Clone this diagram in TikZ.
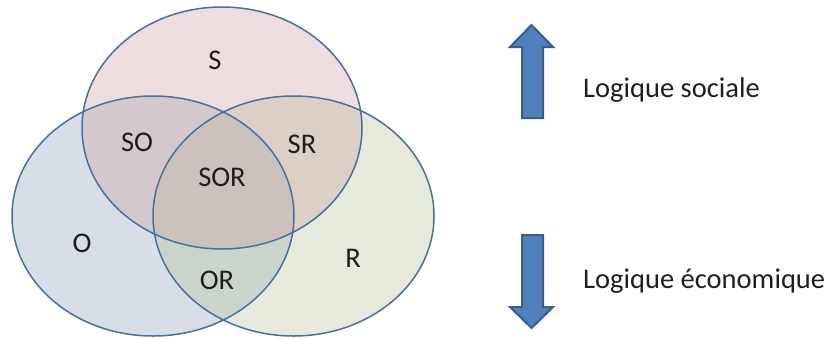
\documentclass[tikz,border=0pt]{standalone}
\usepackage{fontspec}
\setmainfont{Carlito}
\definecolor{sfill}{RGB}{204,158,161}
\definecolor{ofill}{RGB}{141,161,184}
\definecolor{rfill}{RGB}{181,195,155}
\definecolor{vennline}{RGB}{74,111,152}
\definecolor{arrowfill}{RGB}{79,129,189}
\definecolor{arrowline}{RGB}{56,93,138}
\definecolor{txt}{RGB}{30,30,30}
\begin{document}
\begin{tikzpicture}[x=1pt,y=-1pt,
  lbl/.style={inner sep=0pt,text=txt,font=\fontsize{28.5}{34}\selectfont},
  vline/.style={draw=vennline,line width=1.5pt},
  blockarrow/.style={fill=arrowfill,draw=arrowline,line width=2pt,line join=miter}]
\useasboundingbox (0,0) rectangle (832,338);
% fills
\fill[ofill,fill opacity=0.35] (153,216) ellipse [x radius=141pt,y radius=120pt];
\fill[rfill,fill opacity=0.35] (293.5,216) ellipse [x radius=140.5pt,y radius=120pt];
\fill[sfill,fill opacity=0.35] (222,128) ellipse [x radius=140pt,y radius=121pt];
% borders
\draw[vline] (153,216) ellipse [x radius=141pt,y radius=120pt];
\draw[vline] (293.5,216) ellipse [x radius=140.5pt,y radius=120pt];
\draw[vline] (222,128) ellipse [x radius=140pt,y radius=121pt];
% labels
\node[lbl] (s) at (215,60) {S};
\node[lbl] (so) at (137,142) {SO};
\node[lbl] (sr) at (302,144) {SR};
\node[lbl] (sor) at (222,177) {SOR};
\node[lbl] (o) at (82,243) {O};
\node[lbl] (or) at (217,280) {OR};
\node[lbl] (r) at (353,258) {R};
% block arrows
\draw[blockarrow] (522,118) -- (522,47) -- (510,47) -- (531.5,25) -- (553,47) -- (543,47) -- (543,118) -- cycle;
\draw[blockarrow] (522,235) -- (522,307) -- (510,307) -- (531.5,328) -- (553,307) -- (543,307) -- (543,235) -- cycle;
\node[lbl,anchor=base west] (social) at (583,97) {Logique sociale};
\node[lbl,anchor=base west] (eco) at (583,288) {Logique économique};
\end{tikzpicture}
\end{document}
